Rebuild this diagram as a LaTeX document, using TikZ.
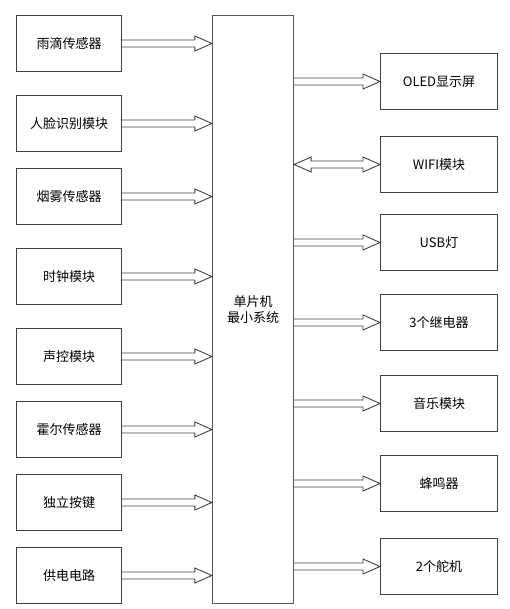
\documentclass[tikz,border=0pt]{standalone}
\usepackage{fontspec}
\setmainfont{Noto Sans CJK SC}
\usepackage{tikz}
\usetikzlibrary{positioning}

\begin{document}
\begin{tikzpicture}[
    font=\fontsize{13}{16}\selectfont,
    every node/.style={inner sep=0pt},
    inbox/.style={rectangle, draw=black!75, line width=1pt, minimum width=105pt, minimum height=56pt, text centered},
    outbox/.style={rectangle, draw=black!75, line width=1pt, minimum width=117pt, minimum height=56pt, text centered},
    mcubox/.style={rectangle, draw=black!65, line width=1.2pt, minimum width=81pt, minimum height=588pt, align=center},
    line/.style={draw=black!75, line width=0.9pt, to path={
        ([yshift=3.5pt]\tikztostart) -- ([xshift=-17pt,yshift=3.5pt]\tikztotarget)
        -- ([xshift=-17pt,yshift=7.5pt]\tikztotarget) -- (\tikztotarget)
        -- ([xshift=-17pt,yshift=-7.5pt]\tikztotarget) -- ([xshift=-17pt,yshift=-3.5pt]\tikztotarget)
        -- ([yshift=-3.5pt]\tikztostart)}},
    twoway/.style={draw=black!75, line width=0.9pt, to path={
        (\tikztostart) -- ([xshift=17pt,yshift=7.5pt]\tikztostart) -- ([xshift=17pt,yshift=3.5pt]\tikztostart)
        -- ([xshift=-17pt,yshift=3.5pt]\tikztotarget) -- ([xshift=-17pt,yshift=7.5pt]\tikztotarget)
        -- (\tikztotarget) -- ([xshift=-17pt,yshift=-7.5pt]\tikztotarget) -- ([xshift=-17pt,yshift=-3.5pt]\tikztotarget)
        -- ([xshift=17pt,yshift=-3.5pt]\tikztostart) -- ([xshift=17pt,yshift=-7.5pt]\tikztostart) -- cycle}}
]

\useasboundingbox (0,0) rectangle (510pt,-609pt);

% MCU
\node [mcubox] (mcu) at (253pt,-309.5pt) {单片机\\最小系统};

% Inputs
\node [inbox] (rain) at (69pt,-43.5pt) {雨滴传感器};
\node [inbox, below=23pt of rain] (face) {人脸识别模块};
\node [inbox, below=16pt of face] (smoke) {烟雾传感器};
\node [inbox, below=23pt of smoke] (clock) {时钟模块};
\node [inbox, below=23pt of clock] (sound) {声控模块};
\node [inbox, below=16pt of sound] (hall) {霍尔传感器};
\node [inbox, below=16pt of hall] (keys) {独立按键};
\node [inbox, below=16pt of keys] (power) {供电电路};

% Outputs
\node [outbox] (oled) at (439pt,-81.5pt) {OLED显示屏};
\node [outbox, below=26pt of oled] (wifi) {WIFI模块};
\node [outbox, below=21pt of wifi] (usb) {USB灯};
\node [outbox, below=23pt of usb] (relay) {3个继电器};
\node [outbox, below=24pt of relay] (music) {音乐模块};
\node [outbox, below=23pt of music] (buzzer) {蜂鸣器};
\node [outbox, below=26pt of buzzer] (servo) {2个舵机};

% Connections
\foreach \n in {rain,face,smoke,clock,sound,hall,keys,power} {
    \coordinate (\n-in) at (\n.east -| mcu.west);
    \path [line] (\n.east) to (\n-in);
}

\foreach \n in {oled,wifi,usb,relay,music,buzzer,servo}
    \coordinate (\n-out) at (\n.west -| mcu.east);

\foreach \n in {oled,usb,relay,music,buzzer,servo}
    \path [line] (\n-out) to (\n.west);

\path [twoway] (wifi-out) to (wifi.west);

\end{tikzpicture}
\end{document}
